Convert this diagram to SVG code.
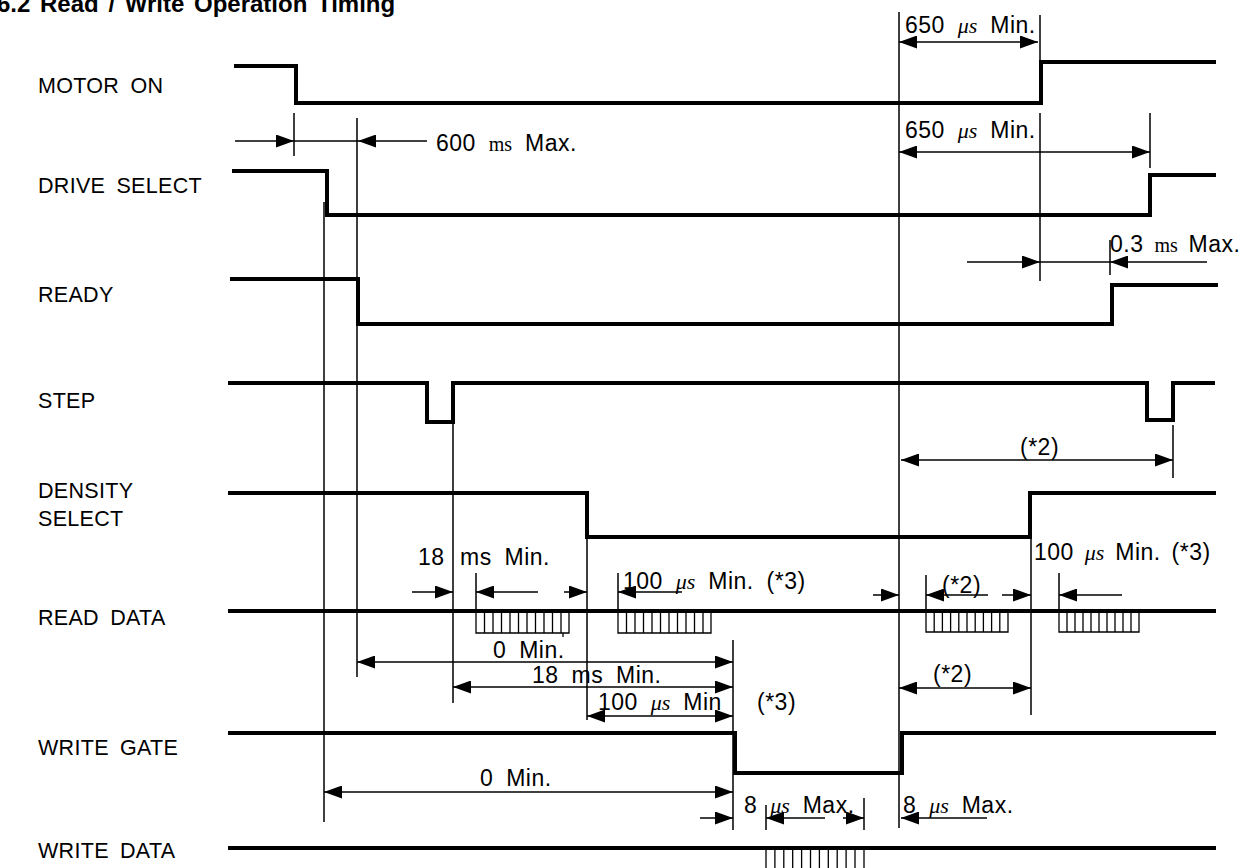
<svg xmlns="http://www.w3.org/2000/svg" width="1249" height="868" viewBox="0 0 1249 868">
<style>
.sig{fill:none;stroke:#000;stroke-width:4;stroke-linejoin:miter;stroke-linecap:square}
.g{fill:none;stroke:#000;stroke-width:1.5}
.a{fill:none;stroke:#000;stroke-width:1.5;marker-end:url(#ah)}
.d{fill:none;stroke:#000;stroke-width:1.5;marker-start:url(#ah);marker-end:url(#ah)}
.b{fill:none;stroke:#000;stroke-width:1.3}
text{font-family:"Liberation Sans",Arial,sans-serif;font-size:23px;fill:#000;word-spacing:6px;letter-spacing:0.5px}
.lab{font-size:21.5px;word-spacing:5px;letter-spacing:0.3px}
.t{font-weight:bold;font-size:24px;word-spacing:3px;letter-spacing:0}
.u{font-family:"Liberation Serif","Times New Roman",serif;font-style:italic;font-size:22px;letter-spacing:0}
.m{font-family:"Liberation Serif","Times New Roman",serif;font-size:20px;letter-spacing:0}
</style>
<defs>
<marker id="ah" viewBox="0 0 18 13" refX="18" refY="6.5" markerWidth="18" markerHeight="13" orient="auto-start-reverse" markerUnits="userSpaceOnUse">
<path d="M0,0 L18,6.5 L0,13 z" fill="#000"/>
</marker>
</defs>
<text class="t" x="-3" y="12">6.2 Read / Write Operation Timing</text>

<g id="motor-on"><text class="lab" x="38" y="93">MOTOR ON</text><path class="sig" d="M236,66 H296 V103 H1041 V62 H1214"/></g>
<g id="drive-select"><text class="lab" x="38" y="193">DRIVE SELECT</text><path class="sig" d="M234,171 H327 V215 H1150 V175 H1214"/></g>
<g id="ready"><text class="lab" x="38" y="302">READY</text><path class="sig" d="M232,279 H358 V324 H1112 V285 H1216"/></g>
<g id="step"><text class="lab" x="38" y="408">STEP</text><path class="sig" d="M230,383 H427 V422 H453 V383 H1147 V420 H1173 V383 H1213"/></g>
<g id="density-select"><text class="lab" x="38" y="498">DENSITY</text><text class="lab" x="38" y="526">SELECT</text><path class="sig" d="M230,493 H587 V537 H1030 V493 H1214"/></g>
<g id="read-data"><text class="lab" x="38" y="625">READ DATA</text><path class="sig" d="M230,611 H1214"/>
<path class="b" d="M476,613 V633 H569 V613 M484.5,613 V633 M493,613 V633 M501.5,613 V633 M510,613 V633 M518.5,613 V633 M527,613 V633 M535.5,613 V633 M544,613 V633 M552.5,613 V633 M561,613 V633 M563,633 V637"/>
<path class="b" d="M618,613 V633 H711 V613 M626.5,613 V633 M635,613 V633 M643.5,613 V633 M652,613 V633 M660.5,613 V633 M669,613 V633 M677.5,613 V633 M686,613 V633 M694.5,613 V633 M703,613 V633"/>
<path class="b" d="M926,613 V632 H1008 V613 M934.2,613 V632 M942.4,613 V632 M950.6,613 V632 M958.8,613 V632 M967,613 V632 M975.2,613 V632 M983.4,613 V632 M991.6,613 V632 M999.8,613 V632"/>
<path class="b" d="M1059,613 V632 H1139 V613 M1067,613 V632 M1075,613 V632 M1083,613 V632 M1091,613 V632 M1099,613 V632 M1107,613 V632 M1115,613 V632 M1123,613 V632 M1131,613 V632"/>
</g>
<g id="write-gate"><text class="lab" x="38" y="755">WRITE GATE</text><path class="sig" d="M230,733 H735 V773 H902 V733 H1214"/></g>
<g id="write-data"><text class="lab" x="38" y="858">WRITE DATA</text><path class="sig" d="M230,848 H1214"/>
<path class="b" d="M766,850 V868 M864,850 V868 M774.9,850 V868 M783.8,850 V868 M792.7,850 V868 M801.6,850 V868 M810.5,850 V868 M819.4,850 V868 M828.3,850 V868 M837.2,850 V868 M846.1,850 V868 M855,850 V868"/>
</g>

<g id="connectors">
<path class="g" d="M899,12 V828 M1040,15 V60 M1040,113 V281 M1150,113 V168 M1110,240 V275 M1173,425 V478 M294,113 V156 M357,118 V677 M324,202 V822 M453,424 V703 M587,537 V720 M733,640 V830 M1031,537 V715 M476,573 V611 M618,573 V611 M926,575 V611 M1059,573 V611 M766,805 V830 M864,798 V830"/>
<path class="a" d="M235,141 H294"/>
<path class="g" d="M294,141 H358"/>
<path class="a" d="M427,141 H358"/>
<path class="d" d="M899,42 H1038"/>
<path class="d" d="M899,152 H1150"/>
<path class="a" d="M967,262 H1040"/>
<path class="g" d="M1040,262 H1110"/>
<path class="a" d="M1207,262 H1110"/>
<path class="d" d="M901,460 H1173"/>
<path class="a" d="M412,592 H453"/>
<path class="a" d="M538,592 H476"/>
<path class="a" d="M564,592 H587"/>
<path class="a" d="M682,592 H618"/>
<path class="a" d="M873,595 H899"/>
<path class="a" d="M988,595 H926"/>
<path class="a" d="M1002,595 H1031"/>
<path class="a" d="M1122,595 H1059"/>
<path class="d" d="M357,662 H733"/>
<path class="d" d="M453,687 H733"/>
<path class="d" d="M587,716 H733"/>
<path class="d" d="M899,688 H1031"/>
<path class="d" d="M324,792 H733"/>
<path class="a" d="M700,818 H733"/>
<path class="a" d="M825,818 H766"/>
<path class="a" d="M843,818 H864"/>
<path class="a" d="M987,818 H901"/>
<text x="905" y="33">650 <tspan class="u">μs</tspan> Min.</text>
<text x="905" y="138">650 <tspan class="u">μs</tspan> Min.</text>
<text x="436" y="151">600 <tspan class="m">ms</tspan> Max.</text>
<text x="1110" y="252" style="word-spacing:4px">0.3 <tspan class="m">ms</tspan> Max.</text>
<text x="1020" y="455">(*2)</text>
<text x="418" y="565">18</text>
<text x="460" y="565">ms Min.</text>
<text x="623" y="589">100 <tspan class="u">μs</tspan> Min. (*3)</text>
<text x="942" y="593">(*2)</text>
<text x="1034" y="560" style="word-spacing:4px">100 <tspan class="u">μs</tspan> Min. (*3)</text>
<text x="493" y="658">0 Min.</text>
<text x="532" y="683">18 ms Min.</text>
<text x="598" y="710">100 <tspan class="u">μs</tspan> Min</text>
<text x="757" y="710">(*3)</text>
<text x="933" y="682">(*2)</text>
<text x="480" y="786">0 Min.</text>
<text x="744" y="813">8 <tspan class="u">μs</tspan> Max.</text>
<text x="903" y="813">8 <tspan class="u">μs</tspan> Max.</text>
</g>
</svg>
